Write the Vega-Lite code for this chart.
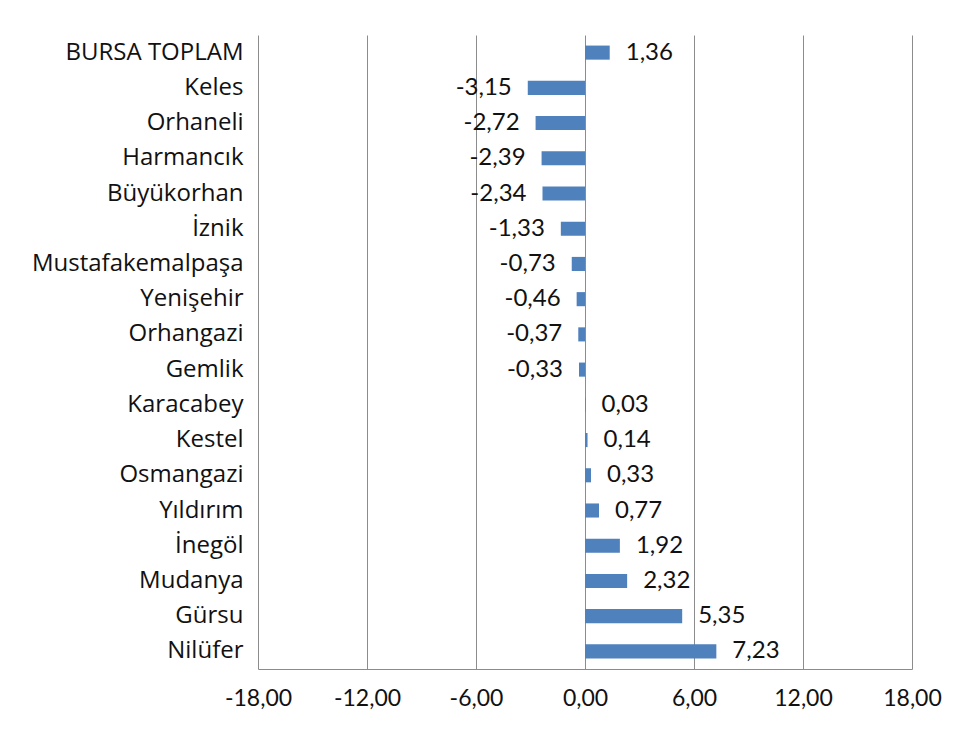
{
  "$schema": "https://vega.github.io/schema/vega-lite/v6.json",
  "width": 654,
  "height": 634,
  "autosize": "none",
  "padding": {"left": 258, "top": 35, "right": 51, "bottom": 62},
  "background": "white",
  "data": {"values": [
    {"ilce": "BURSA TOPLAM", "v": 1.36},
    {"ilce": "Keles", "v": -3.15},
    {"ilce": "Orhaneli", "v": -2.72},
    {"ilce": "Harmancık", "v": -2.39},
    {"ilce": "Büyükorhan", "v": -2.34},
    {"ilce": "İznik", "v": -1.33},
    {"ilce": "Mustafakemalpaşa", "v": -0.73},
    {"ilce": "Yenişehir", "v": -0.46},
    {"ilce": "Orhangazi", "v": -0.37},
    {"ilce": "Gemlik", "v": -0.33},
    {"ilce": "Karacabey", "v": 0.03},
    {"ilce": "Kestel", "v": 0.14},
    {"ilce": "Osmangazi", "v": 0.33},
    {"ilce": "Yıldırım", "v": 0.77},
    {"ilce": "İnegöl", "v": 1.92},
    {"ilce": "Mudanya", "v": 2.32},
    {"ilce": "Gürsu", "v": 5.35},
    {"ilce": "Nilüfer", "v": 7.23}
  ]},
  "transform": [
    {"calculate": "(datum.v < 0 ? '-' : '') + replace(format(abs(datum.v), '.2f'), '.', ',')", "as": "lbl"}
  ],
  "encoding": {
    "y": {
      "field": "ilce", "type": "nominal", "sort": null,
      "scale": {"paddingInner": 0.6, "paddingOuter": 0.3},
      "axis": {
        "title": null, "domain": false, "ticks": false, "grid": false,
        "labelFont": "Open Sans", "labelFontSize": 24, "labelColor": "#111111",
        "labelPadding": 15, "labelLimit": 300
      }
    },
    "x": {
      "field": "v", "type": "quantitative",
      "scale": {"domain": [-18, 18], "nice": false, "zero": false},
      "axis": {
        "title": null, "values": [-18, -12, -6, 0, 6, 12, 18],
        "labelExpr": "(datum.value < 0 ? '-' : '') + replace(format(abs(datum.value), '.2f'), '.', ',')",
        "grid": true, "gridColor": "#8c8c8c", "gridWidth": 1, "gridOpacity": 1,
        "domain": true, "domainColor": "#8c8c8c", "domainWidth": 1,
        "ticks": false, "labelFont": "Lato", "labelFontSize": 23, "labelColor": "#111111",
        "labelPadding": 18, "labelFlush": false, "labelOverlap": false
      }
    }
  },
  "layer": [
    {"mark": {"type": "bar", "color": "#4F81BD"}},
    {
      "transform": [{"filter": "datum.v >= 0"}],
      "mark": {"type": "text", "align": "left", "baseline": "middle", "dx": 16, "font": "Lato", "fontSize": 24, "color": "#111111"},
      "encoding": {"text": {"field": "lbl"}}
    },
    {
      "transform": [{"filter": "datum.v < 0"}],
      "mark": {"type": "text", "align": "right", "baseline": "middle", "dx": -16, "font": "Lato", "fontSize": 24, "color": "#111111"},
      "encoding": {"text": {"field": "lbl"}}
    }
  ],
  "config": {"view": {"stroke": null}}
}
